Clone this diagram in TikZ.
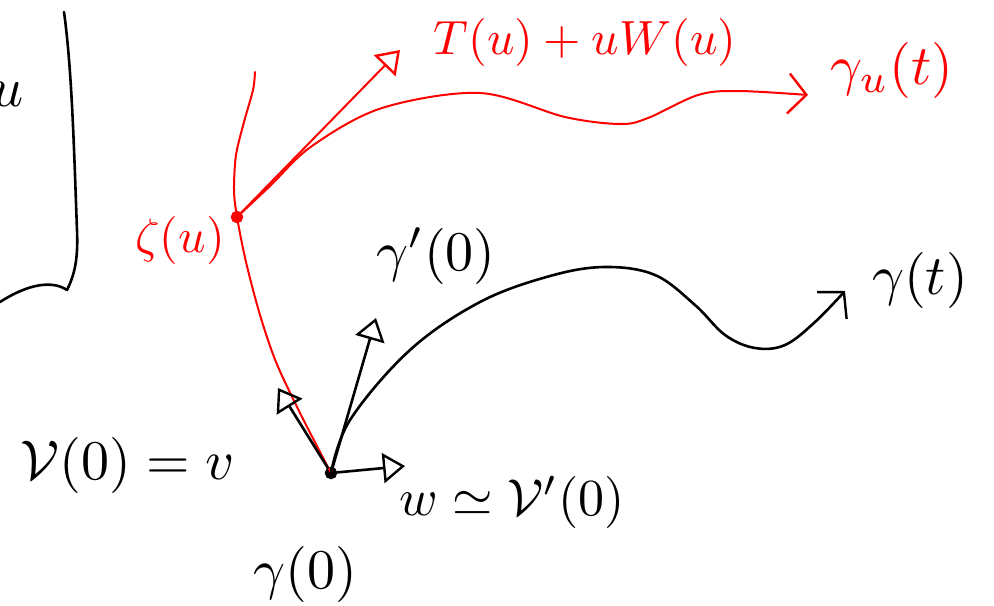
\documentclass[tikz,border=0pt]{standalone}
\usepackage{amsmath,amssymb}
\usepackage{xcolor}
\usetikzlibrary{arrows.meta,positioning}
\newcommand{\bigtxt}[1]{\scalebox{2.8}{#1}}
\newcommand{\redtxt}[1]{\scalebox{2.4}{#1}}

\begin{document}
\begin{tikzpicture}[x=0.5pt,y=-0.5pt,
  ink/.style={line width=1.3pt,line cap=round,line join=round},
  redink/.style={line width=1pt,line cap=round,line join=round,red},
  tri/.style={-{Triangle[open,length=11pt,width=15pt,line width=1.2pt]}},
  barb/.style={-{Straight Barb[length=9pt,width=20pt,line width=1.2pt]}},
  dot/.style={circle,draw,line width=1.2pt,inner sep=0pt,minimum size=5pt},
  lbl/.style={inner sep=0pt},
  redlbl/.style={inner sep=0pt,text=red}]
\useasboundingbox (0,0) rectangle (994,605);

% bracket on the left
\draw[ink] (64,12) .. controls (72,70) and (74,150) .. (77,230)
  .. controls (78,255) and (76,272) .. (67,290)
  .. controls (52,280) and (28,284) .. (0,302);
\node[lbl] (uleft) at (8,94) {\bigtxt{$u$}};

% points
\node[dot,fill=black] (g0) at (331,473) {};
\node[dot,draw=red,fill=red] (zeta) at (237,217) {};
\coordinate (ztop) at (255,72);
\coordinate (gtend) at (845,291);
\coordinate (gutip) at (808,95);
\coordinate (tuw) at (400,50);
\coordinate (dg) at (376,318);
\coordinate (vtip) at (278,388);
\coordinate (wtip) at (405,466);

% red curves
\draw[redink] plot[smooth,tension=0.5] coordinates {(ztop) (253,90) (244,122) (236,155) (234,190) (zeta) (246,262) (260,315) (276,362) (300,413) (g0)};
\draw[redink,barb] plot[smooth,tension=0.55] coordinates {(zeta) (270,186) (312,146) (382,108) (480,93) (565,117) (620,124) (648,118) (698,95) (738,91) (gutip)};
\draw[redink,tri] (zeta) -- (tuw);

% black curve and vectors
\draw[ink,barb] plot[smooth,tension=0.6] coordinates {(g0) (350,420) (410,350) (480,302) (550,276) (605,267) (655,275) (695,305) (725,335) (755,348) (785,345) (815,322) (gtend)};
\draw[ink,tri] (g0) -- (dg);
\draw[ink,tri] (g0) -- (vtip);
\draw[ink,tri] (g0) -- (wtip);

% labels
\node[redlbl] (tuwlbl) at (585,42) {\redtxt{$T(u)+uW(u)$}};
\node[redlbl] (gulbl) at (892,70) {\bigtxt{$\gamma_u(t)$}};
\node[redlbl] (zlbl) at (180,240) {\redtxt{$\zeta(u)$}};
\node[lbl] (dglbl) at (436,256) {\bigtxt{$\gamma'(0)$}};
\node[lbl] (gtlbl) at (920,280) {\bigtxt{$\gamma(t)$}};
\node[lbl] (vlbl) at (128,465) {\bigtxt{$\mathcal{V}(0) = v$}};
\node[lbl] (wlbl) at (512,502) {\scalebox{2.6}{$w \simeq \mathcal{V}'(0)$}};
\node[lbl] (g0lbl) at (305,574) {\bigtxt{$\gamma(0)$}};
\end{tikzpicture}
\end{document}
